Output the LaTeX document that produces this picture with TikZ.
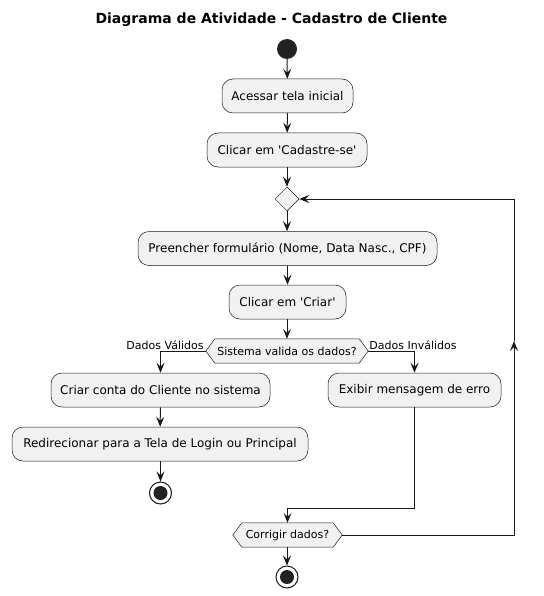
\documentclass[tikz,border=0pt]{standalone}
\usepackage{fontspec}
\setmainfont{DejaVu Sans}
\usetikzlibrary{arrows.meta,backgrounds,calc,shapes.geometric}
\definecolor{boxfill}{HTML}{F1F1F1}
\definecolor{ln}{HTML}{181818}
\definecolor{dot}{HTML}{222222}
\newcommand\hexshape[1]{%
  \begin{scope}[on background layer]
    \draw[draw=ln, line width=0.5pt, fill=boxfill] (#1.west) -- ($(#1.north west)+(9,0)$) -- ($(#1.north east)+(-9,0)$) -- (#1.east) -- ($(#1.south east)+(-9,0)$) -- ($(#1.south west)+(9,0)$) -- cycle;
  \end{scope}}
\begin{document}
\begin{tikzpicture}[x=1pt,y=-1pt,
  act/.style={draw=ln, line width=0.5pt, fill=boxfill, rounded corners=11pt, minimum height=34pt, inner sep=0pt, font=\fontsize{12}{14}\selectfont, text=black},
  flow/.style={draw=ln, line width=1pt, -{Stealth[length=10pt,width=8pt,inset=4pt]}},
  plain/.style={draw=ln, line width=1pt},
  hexlbl/.style={inner sep=0pt, minimum height=24pt, font=\fontsize{11}{13}\selectfont, text=black},
  lbl/.style={font=\fontsize{11}{13}\selectfont, inner sep=0pt, text=black},
  startdot/.style={circle, fill=dot, minimum size=20pt, inner sep=0pt},
  stopdot/.style={circle, draw=ln, line width=1pt, fill=white, minimum size=22pt, inner sep=0pt},
]
\useasboundingbox (0,0) rectangle (543,596);

\node[font=\bfseries\fontsize{14}{16}\selectfont] (title) at (271.5,20) {Diagrama de Atividade - Cadastro de Cliente};

\node[startdot] (start) at (287,49) {};
\node[act, minimum width=131pt] (a1) at (287.5,96) {Acessar tela inicial};
\node[act, minimum width=160pt] (a2) at (287,150) {Clicar em \textquotesingle Cadastre-se\textquotesingle};
\node[diamond, draw=ln, line width=0.5pt, fill=boxfill, minimum width=24pt, minimum height=24pt, inner sep=0pt] (d1) at (287,199) {};
\node[act, minimum width=299pt] (a3) at (287.5,248.5) {Preencher formulário (Nome, Data Nasc., CPF)};
\node[act, minimum width=117pt] (a4) at (287.5,302) {Clicar em \textquotesingle Criar\textquotesingle};
\node[hexlbl, minimum width=162pt] (h1) at (287,351) {Sistema valida os dados?};
\hexshape{h1}

\node[act, minimum width=219pt] (b1) at (160.5,390) {Criar conta do Cliente no sistema};
\node[act, minimum width=296pt] (b2) at (160,444) {Redirecionar para a Tela de Login ou Principal};
\node[stopdot] (s1) at (160.5,493) {};
\fill[dot] (s1.center) circle (7pt);

\node[act, minimum width=173pt] (c1) at (414.5,390) {Exibir mensagem de erro};

\node[hexlbl, minimum width=109pt] (h2) at (287.5,535) {Corrigir dados?};
\hexshape{h2}
\node[stopdot] (s2) at (287,577) {};
\fill[dot] (s2.center) circle (7pt);

\coordinate (m1) at (414.5,508);
\coordinate (r1) at (514,535);
\coordinate (r2) at (514,341);
\coordinate (r3) at (514,199);

\draw[flow] (start) -- (a1);
\draw[flow] (a1) -- (a2);
\draw[flow] (a2) -- (d1.north);
\draw[flow] (d1.south) -- (a3.north -| d1.south);
\draw[flow] (a3.south -| a4.north) -- (a4);
\draw[flow] (a4.south -| h1.north) -- (h1.north);
\draw[flow] (h1.west) -| (b1.north);
\draw[flow] (h1.east) -| (c1.north);
\node[lbl, anchor=base east] (lv) at ($(h1.west)+(-2,-2)$) {Dados Válidos};
\node[lbl, anchor=base west] (li) at ($(h1.east)+(1,-2)$) {Dados Inválidos};
\draw[flow] (b1) -- (b2);
\draw[flow] (b2.south -| s1.north) -- (s1.north);
\draw[plain] (c1.south) -- (m1);
\draw[flow] (m1) -| (h2.north);
\draw[flow] (h2.south -| s2.north) -- (s2.north);
\draw[flow] (h2.east) -- (r1) -- (r2);
\draw[flow] (r2) -- (r3) -- (d1.east);
\end{tikzpicture}
\end{document}
